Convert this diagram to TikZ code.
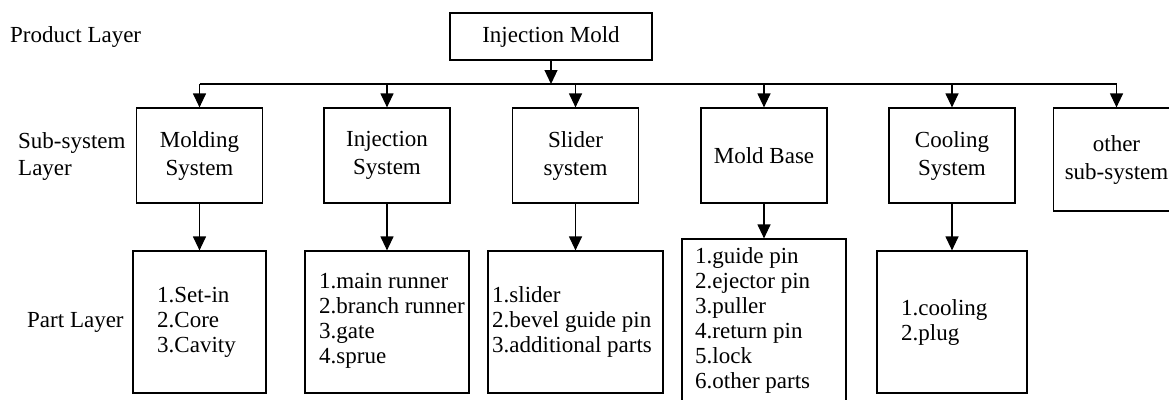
\documentclass[tikz,border=0pt]{standalone}
\usepackage{fontspec}
\setmainfont{Liberation Serif}
\usetikzlibrary{arrows.meta}
\begin{document}
\begin{tikzpicture}[x=1pt,y=-1pt,
  every node/.style={font=\fontsize{23}{25}\selectfont, inner sep=0pt},
  box/.style={draw, line width=1.2pt, align=center},
  subbox/.style={box, minimum width=126pt, minimum height=95pt, font=\fontsize{23}{28}\selectfont},
  partbox/.style={box, minimum height=142pt},
  list/.style={anchor=west, align=left},
  conn/.style={line width=1.2pt},
  arr/.style={conn, -{Triangle[length=14pt,width=13pt]}}]
\useasboundingbox (0,0) rectangle (1169,399);
\clip (0,0) rectangle (1169,399);

% layer labels
\node[anchor=west] (lprod) at (10,37) {Product Layer};
\node[anchor=west, align=left, font=\fontsize{23}{27}\selectfont] (lsub) at (18,156.5) {Sub-system\\Layer};
\node[anchor=west] (lpart) at (27,322) {Part Layer};

% product
\node[box, minimum width=202pt, minimum height=47pt] (top) at (551,36.5) {Injection Mold};

% sub-systems
\node[subbox] (mold) at (199.5,155.5) {Molding\\System};
\node[subbox] (inj) at (387,155.5) {Injection\\System};
\node[subbox] (sld) at (575.5,155.5) {Slider\\system};
\node[subbox] (base) at (764,155.5) {Mold Base};
\node[subbox] (cool) at (952,155.5) {Cooling\\System};
\node[subbox, minimum height=103pt] (oth) at (1116.5,159.5) {other\\sub-system};

% parts
\node[partbox, minimum width=133pt] (pmold) at (199.5,322) {};
\node[partbox, minimum width=164pt] (pinj) at (387,322) {};
\node[partbox, minimum width=175pt] (psld) at (575.5,322) {};
\node[partbox, minimum width=164pt, minimum height=181pt] (pbase) at (764,329.5) {};
\node[partbox, minimum width=150pt] (pcool) at (952,322) {};

\node[list] (tmold) at (157,322) {1.Set-in\\2.Core\\3.Cavity};
\node[list] (tinj) at (319,320.5) {1.main runner\\2.branch runner\\3.gate\\4.sprue};
\node[list] (tsld) at (492,322) {1.slider\\2.bevel guide pin\\3.additional parts};
\node[list] (tbase) at (695,320.5) {1.guide pin\\2.ejector pin\\3.puller\\4.return pin\\5.lock\\6.other parts};
\node[list] (tcool) at (901,322.5) {1.cooling\\2.plug};

% connectors
\coordinate (j) at (551,84);
\draw[arr] (top.south) -- (j);
\draw[conn] (mold.north |- j) -- (oth.north |- j);
\foreach \n in {mold,inj,sld,base,cool,oth}
  \draw[arr] (\n.north |- j) -- (\n.north);
\draw[arr] (mold.south) -- (pmold.north);
\draw[arr] (inj.south) -- (pinj.north);
\draw[arr] (sld.south) -- (psld.north);
\draw[arr] (base.south) -- (pbase.north);
\draw[arr] (cool.south) -- (pcool.north);
\end{tikzpicture}
\end{document}
